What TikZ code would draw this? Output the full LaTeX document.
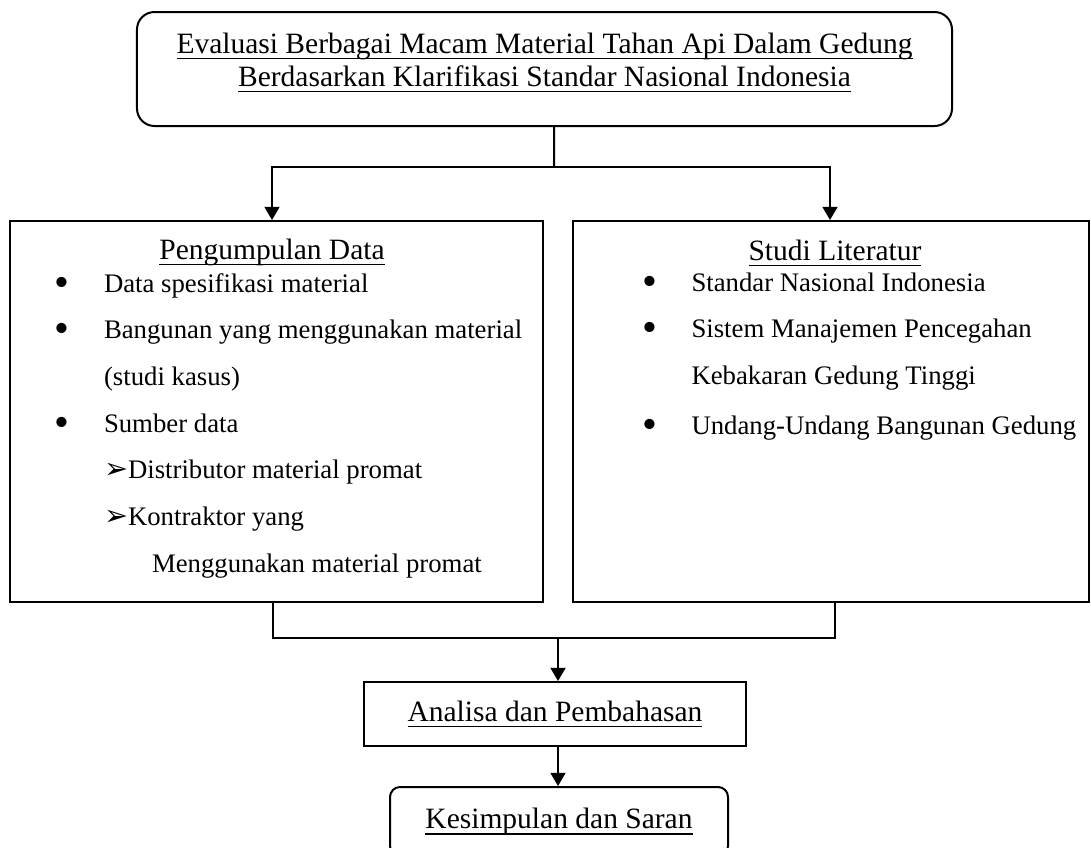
\documentclass[tikz,border=0pt]{standalone}
\usepackage{fontspec}
\setmainfont{Liberation Serif}
\newfontfamily\simbol{DejaVu Sans}
\usetikzlibrary{arrows.meta, positioning}

\newsavebox{\kotakgaris}
\newcommand{\garisbawah}[1]{\sbox{\kotakgaris}{#1}\rlap{\rule[-2.4pt]{\wd\kotakgaris}{0.6pt}}\usebox{\kotakgaris}}
\newcommand{\butir}{\makebox[8pt]{\raisebox{-1.6pt}{\fontsize{17}{17}\selectfont •}}\hspace{12.8pt}}
\newcommand{\menjorok}{\hspace*{20.8pt}}
\newcommand{\subbutir}{\makebox[9.6pt][l]{\simbol\fontsize{11.5}{11.5}\selectfont ➢}}

\begin{document}
\begin{tikzpicture}[x=0.4pt, y=-0.4pt,
      kotak/.style={draw, rectangle, line width=0.8pt, inner sep=0pt},
      kotakbulat/.style={kotak, rounded corners=7pt},
      judulteks/.style={font={\fontsize{11.8}{13.2}\selectfont}, inner sep=0pt},
      isiteks/.style={font={\fontsize{10.7}{18.67}\selectfont}, inner sep=0pt, anchor=base west},
      garis/.style={line width=0.8pt},
      panah/.style={garis, -{Triangle[width=6pt, length=5.3pt]}}
    ]
    \useasboundingbox (0,0) rectangle (1091,847);

    % Kotak
    \node[kotakbulat, minimum width=326pt, minimum height=45.6pt] (judul) at (544.5,69) {};
    \node[kotak, minimum width=213.2pt, minimum height=152.4pt] (pengumpulan) at (276.5,411.5) {};
    \node[kotak, minimum width=206.4pt, minimum height=152.4pt] (studi) at (831,411.5) {};
    \node[kotak, judulteks, minimum width=152.8pt, minimum height=25.6pt] (analisa) at (555,714) {\garisbawah{Analisa dan Pembahasan}};
    \node[kotakbulat, judulteks, rounded corners=4pt, minimum width=135.2pt, minimum height=27.6pt] (kesimpulan) at (559,821.5) {\garisbawah{Kesimpulan dan Saran}};

    % Teks
    \node[judulteks, anchor=base] (judulTeks) at (544.5,53) {\begin{tabular}[t]{@{}c@{}}
        \garisbawah{Evaluasi Berbagai Macam Material Tahan Api Dalam Gedung}\\
        \garisbawah{Berdasarkan Klarifikasi Standar Nasional Indonesia}
      \end{tabular}};
    \node[judulteks, anchor=base] (pengumpulanJudul) at (272,259) {\garisbawah{Pengumpulan Data}};
    \node[judulteks, anchor=base] (studiJudul) at (835,260) {\garisbawah{Studi Literatur}};

    \node[isiteks] (pengumpulanIsi) at (51.5,292) {\begin{tabular}[t]{@{}l@{}}
        \butir Data spesifikasi material\\
        \butir Bangunan yang menggunakan material\\
        \menjorok(studi kasus)\\
        \butir Sumber data\\
        \menjorok\subbutir Distributor material promat\\
        \menjorok\subbutir Kontraktor yang\\
        \hspace*{40pt}Menggunakan material promat
      \end{tabular}};
    \node[isiteks] (studiIsi) at (639,291) {\begin{tabular}[t]{@{}l@{}}
        \butir Standar Nasional Indonesia\\
        \butir Sistem Manajemen Pencegahan\\
        \menjorok Kebakaran Gedung Tinggi\\[1.2pt]
        \butir Undang-Undang Bangunan Gedung
      \end{tabular}};

    % Penghubung
    \coordinate (cabang) at (554,167);
    \coordinate (gabung) at (558,638);
    \draw[garis] ([xshift=3.8pt]judul.south) -- (cabang);
    \draw[panah] (cabang) -| ([xshift=-1.8pt]pengumpulan.north);
    \draw[panah] (cabang) -| ([xshift=-0.4pt]studi.north);
    \draw[garis] ([xshift=-1.4pt]pengumpulan.south) |- (gabung);
    \draw[garis] ([xshift=1.6pt]studi.south) |- (gabung);
    \draw[panah] (gabung) -- (gabung |- analisa.north);
    \draw[panah] (gabung |- analisa.south) -- (gabung |- kesimpulan.north);
  \end{tikzpicture}
\end{document}
